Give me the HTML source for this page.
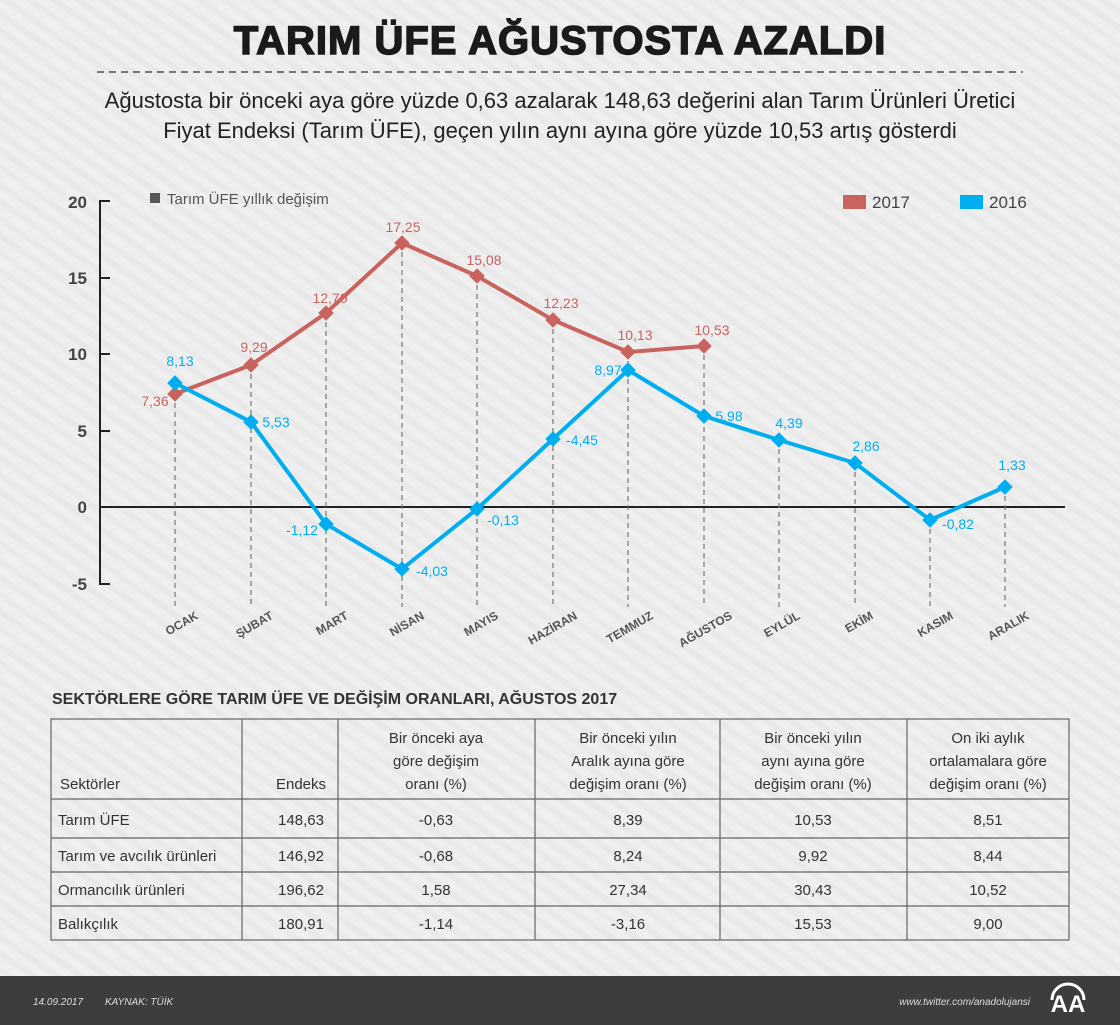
<!DOCTYPE html>
<html><head><meta charset="utf-8"><style>
html,body{margin:0;padding:0}
body{width:1120px;height:1025px;overflow:hidden;background:#eeeeef;font-family:"Liberation Sans",sans-serif;position:relative}
</style></head><body>
<svg width="1120" height="1025" viewBox="0 0 1120 1025" xmlns="http://www.w3.org/2000/svg" style="position:absolute;left:0;top:0;font-family:'Liberation Sans',sans-serif">
<defs><pattern id="st" width="14" height="14" patternUnits="userSpaceOnUse" patternTransform="rotate(-55)"><rect width="14" height="14" fill="#efeff0"/><rect width="6" height="14" fill="#e9e9ea"/></pattern></defs>
<rect width="1120" height="976" fill="url(#st)"/>
<text x="560" y="54" text-anchor="middle" font-size="40" font-weight="900" fill="#1a1a1a" letter-spacing="1" stroke="#1a1a1a" stroke-width="1.5">TARIM ÜFE AĞUSTOSTA AZALDI</text>
<line x1="97" y1="72" x2="1023" y2="72" stroke="#333" stroke-width="1.2" stroke-dasharray="7,5"/>
<text x="560" y="108" text-anchor="middle" font-size="22" fill="#222">Ağustosta bir önceki aya göre yüzde 0,63 azalarak 148,63 değerini alan Tarım Ürünleri Üretici</text>
<text x="560" y="138" text-anchor="middle" font-size="22" fill="#222">Fiyat Endeksi (Tarım ÜFE), geçen yılın aynı ayına göre yüzde 10,53 artış gösterdi</text>
<rect x="150" y="193" width="10" height="10" fill="#555"/>
<text x="167" y="204" font-size="15" fill="#555">Tarım ÜFE yıllık değişim</text>
<rect x="843" y="195" width="23" height="14" fill="#c8635e"/><text x="872" y="208" font-size="17" fill="#444">2017</text>
<rect x="960" y="195" width="23" height="14" fill="#00aeef"/><text x="989" y="208" font-size="17" fill="#444">2016</text>
<g font-size="17" font-weight="bold" fill="#444" text-anchor="end">
<text x="87" y="208">20</text><text x="87" y="284">15</text><text x="87" y="360">10</text><text x="87" y="437">5</text><text x="87" y="513">0</text><text x="87" y="590">-5</text></g>
<g stroke="#222" stroke-width="2" fill="none">
<polyline points="110,201 100,201 100,584 110,584"/>
<line x1="100" y1="278" x2="110" y2="278"/><line x1="100" y1="354" x2="110" y2="354"/><line x1="100" y1="431" x2="110" y2="431"/>
<line x1="100" y1="507" x2="1065" y2="507"/>
</g>
<g stroke="#777" stroke-width="1.2" stroke-dasharray="5,4">
<line x1="175" y1="394" x2="175" y2="607"/><line x1="251" y1="365" x2="251" y2="607"/><line x1="326" y1="313" x2="326" y2="607"/><line x1="402" y1="243" x2="402" y2="607"/><line x1="477" y1="276" x2="477" y2="607"/><line x1="553" y1="320" x2="553" y2="607"/><line x1="628" y1="352" x2="628" y2="607"/><line x1="704" y1="346" x2="704" y2="607"/><line x1="779" y1="440" x2="779" y2="607"/><line x1="855" y1="463" x2="855" y2="607"/><line x1="930" y1="520" x2="930" y2="607"/><line x1="1005" y1="487" x2="1005" y2="607"/>
</g>
<polyline fill="none" stroke="#c8635e" stroke-width="4" points="175,394 251,365 326,313 402,243 477,276 553,320 628,352 704,346"/>
<polyline fill="none" stroke="#00aeef" stroke-width="4" points="175,383 251,422 326,524 402,569 477,509 553,439 628,370 704,416 779,440 855,463 930,520 1005,487"/>
<g fill="#c8635e">
<rect x="-5.5" y="-5.5" width="11" height="11" transform="translate(175,394) rotate(45)"/>
<rect x="-5.5" y="-5.5" width="11" height="11" transform="translate(251,365) rotate(45)"/>
<rect x="-5.5" y="-5.5" width="11" height="11" transform="translate(326,313) rotate(45)"/>
<rect x="-5.5" y="-5.5" width="11" height="11" transform="translate(402,243) rotate(45)"/>
<rect x="-5.5" y="-5.5" width="11" height="11" transform="translate(477,276) rotate(45)"/>
<rect x="-5.5" y="-5.5" width="11" height="11" transform="translate(553,320) rotate(45)"/>
<rect x="-5.5" y="-5.5" width="11" height="11" transform="translate(628,352) rotate(45)"/>
<rect x="-5.5" y="-5.5" width="11" height="11" transform="translate(704,346) rotate(45)"/>
</g>
<g fill="#00aeef">
<rect x="-5.5" y="-5.5" width="11" height="11" transform="translate(175,383) rotate(45)"/>
<rect x="-5.5" y="-5.5" width="11" height="11" transform="translate(251,422) rotate(45)"/>
<rect x="-5.5" y="-5.5" width="11" height="11" transform="translate(326,524) rotate(45)"/>
<rect x="-5.5" y="-5.5" width="11" height="11" transform="translate(402,569) rotate(45)"/>
<rect x="-5.5" y="-5.5" width="11" height="11" transform="translate(477,509) rotate(45)"/>
<rect x="-5.5" y="-5.5" width="11" height="11" transform="translate(553,439) rotate(45)"/>
<rect x="-5.5" y="-5.5" width="11" height="11" transform="translate(628,370) rotate(45)"/>
<rect x="-5.5" y="-5.5" width="11" height="11" transform="translate(704,416) rotate(45)"/>
<rect x="-5.5" y="-5.5" width="11" height="11" transform="translate(779,440) rotate(45)"/>
<rect x="-5.5" y="-5.5" width="11" height="11" transform="translate(855,463) rotate(45)"/>
<rect x="-5.5" y="-5.5" width="11" height="11" transform="translate(930,520) rotate(45)"/>
<rect x="-5.5" y="-5.5" width="11" height="11" transform="translate(1005,487) rotate(45)"/>
</g>
<g font-size="14" fill="#c8635e" text-anchor="middle">
<text x="155" y="406">7,36</text><text x="254" y="352">9,29</text><text x="330" y="303">12,70</text><text x="403" y="232">17,25</text><text x="484" y="265">15,08</text><text x="561" y="308">12,23</text><text x="635" y="340">10,13</text><text x="712" y="335">10,53</text></g>
<g font-size="14" fill="#00aeef" text-anchor="middle">
<text x="180" y="366">8,13</text><text x="276" y="427">5,53</text><text x="302" y="535">-1,12</text><text x="432" y="576">-4,03</text><text x="503" y="525">-0,13</text><text x="582" y="445">-4,45</text><text x="608" y="375">8,97</text><text x="729" y="421">5,98</text><text x="789" y="428">4,39</text><text x="866" y="451">2,86</text><text x="958" y="529">-0,82</text><text x="1012" y="470">1,33</text></g>
<g font-size="12" font-weight="bold" fill="#555" text-anchor="end">
<text transform="translate(199,618) rotate(-30)">OCAK</text>
<text transform="translate(274,618) rotate(-30)">ŞUBAT</text>
<text transform="translate(349,618) rotate(-30)">MART</text>
<text transform="translate(425,618) rotate(-30)">NİSAN</text>
<text transform="translate(499,618) rotate(-30)">MAYIS</text>
<text transform="translate(578,618) rotate(-30)">HAZİRAN</text>
<text transform="translate(654,618) rotate(-30)">TEMMUZ</text>
<text transform="translate(733,618) rotate(-30)">AĞUSTOS</text>
<text transform="translate(801,618) rotate(-30)">EYLÜL</text>
<text transform="translate(874,618) rotate(-30)">EKİM</text>
<text transform="translate(954,618) rotate(-30)">KASIM</text>
<text transform="translate(1030,618) rotate(-30)">ARALIK</text>
</g>
<text x="52" y="704" font-size="16" font-weight="bold" fill="#333">SEKTÖRLERE GÖRE TARIM ÜFE VE DEĞİŞİM ORANLARI, AĞUSTOS 2017</text>
<g stroke="#666" stroke-width="1.2" fill="none">
<rect x="51" y="719" width="1018" height="221"/>
<line x1="51" y1="799" x2="1069" y2="799"/><line x1="51" y1="838" x2="1069" y2="838"/><line x1="51" y1="872" x2="1069" y2="872"/><line x1="51" y1="906" x2="1069" y2="906"/>
<line x1="242" y1="719" x2="242" y2="940"/><line x1="338" y1="719" x2="338" y2="940"/><line x1="535" y1="719" x2="535" y2="940"/><line x1="720" y1="719" x2="720" y2="940"/><line x1="907" y1="719" x2="907" y2="940"/>
</g>
<g font-size="15" fill="#333">
<text x="60" y="789">Sektörler</text>
<text x="301" y="789" text-anchor="middle">Endeks</text>
<g text-anchor="middle">
<text x="436" y="743">Bir önceki aya</text><text x="436" y="766">göre değişim</text><text x="436" y="789">oranı (%)</text>
<text x="628" y="743">Bir önceki yılın</text><text x="628" y="766">Aralık ayına göre</text><text x="628" y="789">değişim oranı (%)</text>
<text x="813" y="743">Bir önceki yılın</text><text x="813" y="766">aynı ayına göre</text><text x="813" y="789">değişim oranı (%)</text>
<text x="988" y="743">On iki aylık</text><text x="988" y="766">ortalamalara göre</text><text x="988" y="789">değişim oranı (%)</text>
</g></g>
<g font-size="15" fill="#333">
<text x="58" y="825">Tarım ÜFE</text><text x="58" y="861">Tarım ve avcılık ürünleri</text><text x="58" y="895">Ormancılık ürünleri</text><text x="58" y="929">Balıkçılık</text>
<g text-anchor="middle">
<text x="301" y="825">148,63</text><text x="436" y="825">-0,63</text><text x="628" y="825">8,39</text><text x="813" y="825">10,53</text><text x="988" y="825">8,51</text>
<text x="301" y="861">146,92</text><text x="436" y="861">-0,68</text><text x="628" y="861">8,24</text><text x="813" y="861">9,92</text><text x="988" y="861">8,44</text>
<text x="301" y="895">196,62</text><text x="436" y="895">1,58</text><text x="628" y="895">27,34</text><text x="813" y="895">30,43</text><text x="988" y="895">10,52</text>
<text x="301" y="929">180,91</text><text x="436" y="929">-1,14</text><text x="628" y="929">-3,16</text><text x="813" y="929">15,53</text><text x="988" y="929">9,00</text>
</g></g>
<rect x="0" y="976" width="1120" height="49" fill="#3e3d3b"/>
<g font-size="10" font-style="italic" fill="#ddd">
<text x="33" y="1005">14.09.2017</text><text x="105" y="1005">KAYNAK: TÜİK</text>
<text x="1030" y="1005" text-anchor="end">www.twitter.com/anadolujansi</text></g>
<text x="1068" y="1012" font-size="24" font-weight="bold" fill="#fff" text-anchor="middle">AA</text>
<path d="M1052,1000 A16,16 0 0 1 1084,1000" fill="none" stroke="#fff" stroke-width="3"/>
</svg>
</body></html>
